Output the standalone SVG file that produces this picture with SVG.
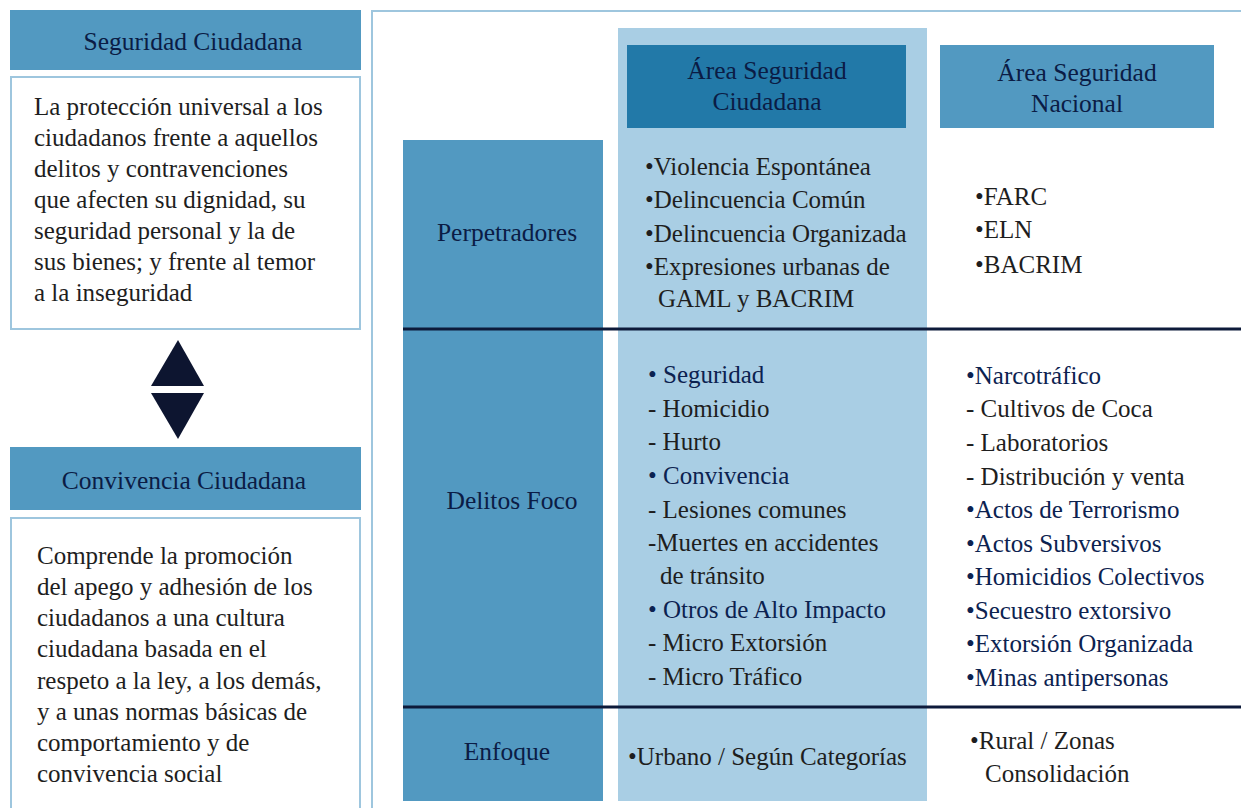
<svg xmlns="http://www.w3.org/2000/svg" width="1241" height="808" viewBox="0 0 1241 808" font-family="'Liberation Serif', 'Times New Roman', serif">
<defs>
<style>
text{font-family:'Liberation Serif','Times New Roman',serif}
.t{font-size:25px;fill:#1e1e1e}
.n{fill:#0c2250}
.h{font-size:25.5px;fill:#0b1c45;text-anchor:middle}
.mid{fill:#5299c1}
.box{fill:#fff;stroke:#9ec6de;stroke-width:2}
.sep{stroke:#0d1a3a;stroke-width:3}
</style>
</defs>
<rect width="1241" height="808" fill="#fff"/>

<g id="seguridad-header">
<rect class="mid" x="10" y="10" width="351" height="60"/>
<text class="h" x="193" y="50">Seguridad Ciudadana</text>
</g>
<g id="seguridad-def">
<rect class="box" x="11" y="77" width="349" height="252"/>
<text class="t"><tspan x="34" y="115">La protección universal a los</tspan><tspan x="34" y="146">ciudadanos frente a aquellos</tspan><tspan x="34" y="177">delitos y contravenciones</tspan><tspan x="34" y="208">que afecten su dignidad, su</tspan><tspan x="34" y="239">seguridad personal y la de</tspan><tspan x="34" y="270">sus bienes; y frente al temor</tspan><tspan x="34" y="301">a la inseguridad</tspan></text>
</g>

<g id="connectors">
<polygon points="178,340 204,386 151,386" fill="#0d1530"/>
<polygon points="151,393 204,393 178,439" fill="#0d1530"/>
</g>

<g id="convivencia-header">
<rect class="mid" x="10" y="447" width="351" height="63"/>
<text class="h" x="184" y="489">Convivencia Ciudadana</text>
</g>
<g id="convivencia-def">
<rect class="box" x="11" y="518" width="349" height="300"/>
<text class="t"><tspan x="37" y="564">Comprende la promoción</tspan><tspan x="37" y="595">del apego y adhesión de los</tspan><tspan x="37" y="626">ciudadanos a una cultura</tspan><tspan x="37" y="657">ciudadana basada en el</tspan><tspan x="37" y="689">respeto a la ley, a los demás,</tspan><tspan x="37" y="720">y a unas normas básicas de</tspan><tspan x="37" y="751">comportamiento y de</tspan><tspan x="37" y="782">convivencia social</tspan></text>
</g>

<g id="table">
<path d="M372,818 V11 H1250" fill="none" stroke="#9ec6de" stroke-width="2"/>
<rect x="618" y="28" width="309" height="773" fill="#a9cee4"/>
<rect x="403" y="140" width="200" height="661" class="mid"/>
</g>

<g id="area-ciudadana">
<rect x="627" y="45" width="279" height="83" fill="#2279a8"/>
<text class="h"><tspan x="767" y="79">Área Seguridad</tspan><tspan x="767" y="110">Ciudadana</tspan></text>
</g>
<g id="area-nacional">
<rect class="mid" x="940" y="45" width="274" height="83"/>
<text class="h"><tspan x="1077" y="81">Área Seguridad</tspan><tspan x="1077" y="112">Nacional</tspan></text>
</g>

<g id="separators">
<line class="sep" x1="403" y1="329" x2="1241" y2="329"/>
<line class="sep" x1="403" y1="707" x2="1241" y2="707"/>
</g>

<g id="row-labels">
<text class="h" x="507" y="241">Perpetradores</text>
<text class="h" x="512" y="509">Delitos Foco</text>
<text class="h" x="507" y="760">Enfoque</text>
</g>

<g id="perpetradores-ciudadana">
<text class="t"><tspan x="645" y="175">•Violencia Espontánea</tspan><tspan x="645" y="208">•Delincuencia Común</tspan><tspan x="645" y="242">•Delincuencia Organizada</tspan><tspan x="645" y="275">•Expresiones urbanas de</tspan><tspan x="658" y="307">GAML y BACRIM</tspan></text>
</g>
<g id="perpetradores-nacional">
<text class="t"><tspan x="975" y="205">•FARC</tspan><tspan x="975" y="238">•ELN</tspan><tspan x="975" y="273">•BACRIM</tspan></text>
</g>

<g id="delitos-ciudadana">
<text class="t">
<tspan x="648" y="383" class="n">• Seguridad</tspan>
<tspan x="648" y="417">- Homicidio</tspan>
<tspan x="648" y="450">- Hurto</tspan>
<tspan x="648" y="484" class="n">• Convivencia</tspan>
<tspan x="648" y="518">- Lesiones comunes</tspan>
<tspan x="648" y="551">-Muertes en accidentes</tspan>
<tspan x="660" y="584">de tránsito</tspan>
<tspan x="648" y="618" class="n">• Otros de Alto Impacto</tspan>
<tspan x="648" y="651">- Micro Extorsión</tspan>
<tspan x="648" y="685">- Micro Tráfico</tspan>
</text>
</g>
<g id="delitos-nacional">
<text class="t">
<tspan x="966" y="384" class="n">•Narcotráfico</tspan>
<tspan x="966" y="417">- Cultivos de Coca</tspan>
<tspan x="966" y="451">- Laboratorios</tspan>
<tspan x="966" y="485">- Distribución y venta</tspan>
<tspan x="966" y="518" class="n">•Actos de Terrorismo</tspan>
<tspan x="966" y="552" class="n">•Actos Subversivos</tspan>
<tspan x="966" y="585" class="n">•Homicidios Colectivos</tspan>
<tspan x="966" y="619" class="n">•Secuestro extorsivo</tspan>
<tspan x="966" y="652" class="n">•Extorsión Organizada</tspan>
<tspan x="966" y="686" class="n">•Minas antipersonas</tspan>
</text>
</g>

<g id="enfoque-ciudadana">
<text class="t" x="628" y="765">•Urbano / Según Categorías</text>
</g>
<g id="enfoque-nacional">
<text class="t"><tspan x="970" y="749">•Rural / Zonas</tspan><tspan x="985" y="782">Consolidación</tspan></text>
</g>
</svg>
